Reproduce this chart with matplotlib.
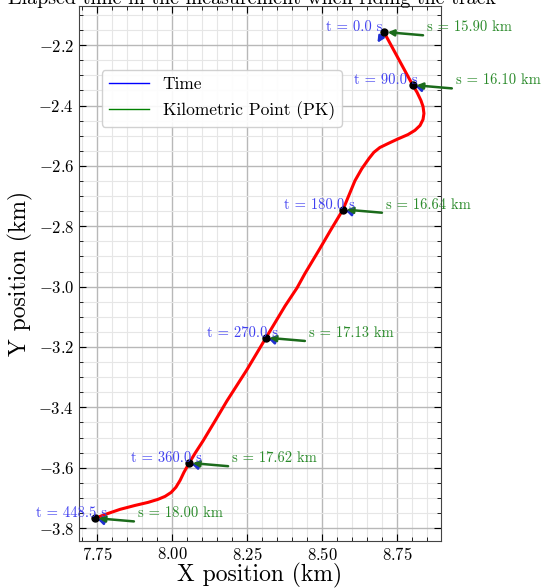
import matplotlib
matplotlib.use('Agg')
import matplotlib.pyplot as plt
from matplotlib.ticker import MultipleLocator

plt.rcParams['font.family'] = 'serif'
plt.rcParams['font.serif'] = ['cmr10']
plt.rcParams['mathtext.fontset'] = 'cm'
plt.rcParams['axes.formatter.use_mathtext'] = True
plt.rcParams['axes.unicode_minus'] = True

# track in local coordinates (km)
track_x = [8.707, 8.755, 8.803, 8.817, 8.830, 8.837, 8.840, 8.837, 8.827, 8.810,
           8.787, 8.750, 8.720, 8.693, 8.673, 8.657, 8.633, 8.610, 8.570, 8.530,
           8.493, 8.443, 8.417, 8.377, 8.313, 8.250, 8.183, 8.143, 8.103, 8.077,
           8.057, 8.040, 8.027, 8.013, 7.997, 7.977, 7.953, 7.920, 7.877, 7.827,
           7.777, 7.743]
track_y = [-2.157, -2.245, -2.333, -2.356, -2.383, -2.403, -2.426, -2.446, -2.466, -2.482,
           -2.496, -2.512, -2.526, -2.539, -2.555, -2.575, -2.609, -2.649, -2.745, -2.811,
           -2.874, -2.957, -3.004, -3.064, -3.170, -3.275, -3.379, -3.446, -3.512, -3.552,
           -3.585, -3.615, -3.642, -3.665, -3.682, -3.695, -3.705, -3.715, -3.725, -3.738,
           -3.755, -3.768]

# sampled instants along the ride
times = [0.0, 90.0, 180.0, 270.0, 360.0, 448.5]
pt_x = [8.707, 8.803, 8.570, 8.313, 8.057, 7.743]
pt_y = [-2.157, -2.333, -2.745, -3.170, -3.585, -3.768]
pk = [15.90, 16.10, 16.64, 17.13, 17.62, 18.00]

fig = plt.figure(figsize=(5.42, 5.88), dpi=100)
ax = fig.add_axes([0.1458, 0.0799, 0.6679, 0.9099])

ax.plot(track_x, track_y, color='red', lw=2.2, zorder=3, solid_joinstyle='round')
ax.plot(pt_x, pt_y, 'o', color='black', ms=5, zorder=5)

for i, (x, y) in enumerate(zip(pt_x, pt_y)):
    # heading arrow
    if i == 0:
        ax.annotate('', xy=(x - 0.022, y - 0.035), xytext=(x, y),
                    arrowprops=dict(arrowstyle='-|>', color='#1f2fd0', lw=1.8,
                                    mutation_scale=9, shrinkA=0, shrinkB=0),
                    zorder=4)
    else:
        ax.annotate('', xy=(x + 0.008, y - 0.002), xytext=(x + 0.032, y - 0.01),
                    arrowprops=dict(arrowstyle='-|>', color='#1f2fd0', lw=1.8,
                                    mutation_scale=9, shrinkA=0, shrinkB=0),
                    zorder=4)
    # kilometric point arrow
    ax.annotate('', xy=(x + 0.012, y), xytext=(x + 0.13, y - 0.01),
                arrowprops=dict(arrowstyle='-|>', color='#1b6b1b', lw=1.8,
                                mutation_scale=9, shrinkA=0, shrinkB=0),
                zorder=4)
    ax.text(x - 0.195, y + 0.016, 't = %.1f s' % times[i], color='#4040f0',
            fontsize=10.5, ha='left', va='center', zorder=6)
    ax.text(x + 0.143, y + 0.016, 's = %.2f km' % pk[i], color='#2a8a2a',
            fontsize=10.5, ha='left', va='center', zorder=6)

ax.plot([], [], color='blue', lw=1, label='Time')
ax.plot([], [], color='green', lw=1, label='Kilometric Point (PK)')
ax.legend(loc='upper left', bbox_to_anchor=(0.0635, 0.880), borderaxespad=0,
          fontsize=12.5, handlelength=2.3, fancybox=True, framealpha=0.9,
          edgecolor='0.8')

ax.set_xlim(7.69, 8.897)
ax.set_ylim(-3.843, -2.07)
ax.xaxis.set_major_locator(MultipleLocator(0.25))
ax.xaxis.set_minor_locator(MultipleLocator(0.05))
ax.yaxis.set_major_locator(MultipleLocator(0.2))
ax.yaxis.set_minor_locator(MultipleLocator(0.05))
ax.grid(which='major', color='#b8b8b8', lw=1.0)
ax.grid(which='minor', color='#e6e6e6', lw=0.8)
ax.set_axisbelow(True)
ax.tick_params(which='both', direction='in', top=True, right=True, labelsize=12)
ax.tick_params(which='major', length=5)
ax.tick_params(which='minor', length=3)
for sp in ax.spines.values():
    sp.set_color('#444444')

ax.set_xlabel('X position (km)', fontsize=17, labelpad=0)
ax.set_ylabel('Y position (km)', fontsize=17)

fig.text(0.465, 1 - 3.5 / 588, 'Elapsed time in the measurement when riding the track',
         fontsize=14.4, ha='center', va='baseline')

fig.savefig('out.png', dpi=100)
